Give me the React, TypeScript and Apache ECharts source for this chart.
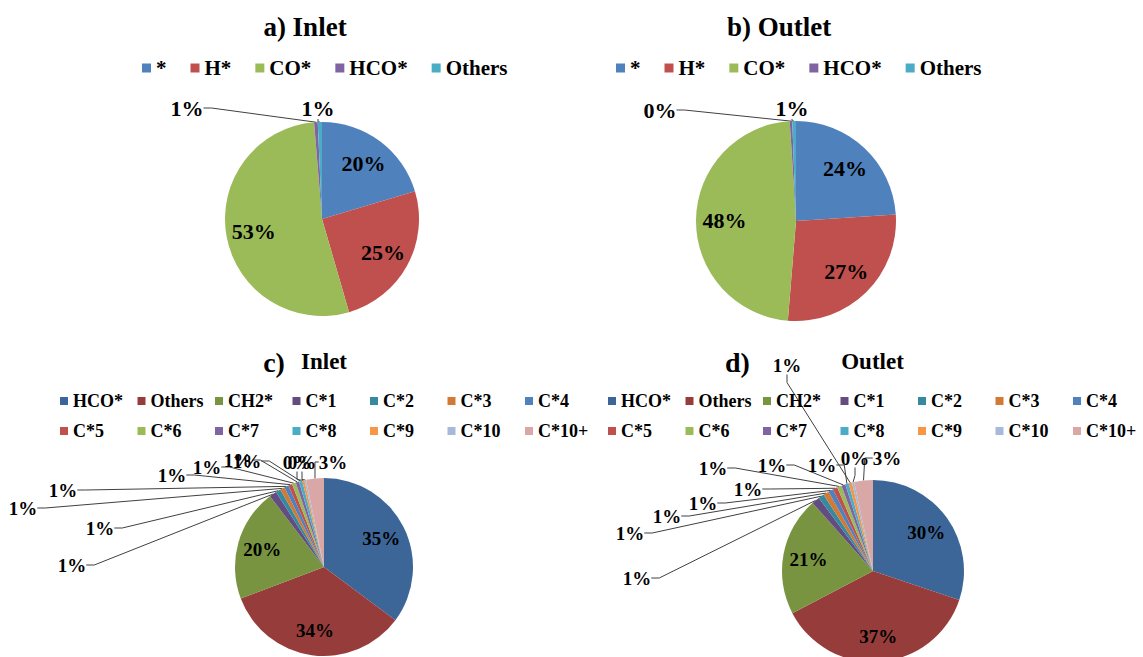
import React, { useEffect, useRef } from 'react';
import * as echarts from 'echarts';

// ---------- data ----------
const topCategories = ['*', 'H*', 'CO*', 'HCO*', 'Others'];
const inletTopValues = [20.4, 25.1, 53.2, 0.6, 0.7];
const outletTopValues = [24.0, 27.4, 47.8, 0.4, 0.6];
const topColors = ['#4F81BD', '#C0504D', '#9BBB59', '#8064A2', '#4BACC6'];

const bottomCategories = ['HCO*', 'Others', 'CH2*', 'C*1', 'C*2', 'C*3', 'C*4', 'C*5', 'C*6', 'C*7', 'C*8', 'C*9', 'C*10', 'C*10+'];
const inletBottomValues = [34.9, 33.8, 20.2, 1.3, 0.9, 0.8, 0.8, 0.7, 0.7, 0.6, 0.6, 0.4, 0.3, 3.2];
const outletBottomValues = [30.0, 37.0, 21.0, 1.4, 1.0, 1.0, 0.9, 0.8, 0.8, 0.7, 0.6, 0.6, 0.4, 3.3];
const bottomColors = ['#3D6698', '#963D3B', '#789440', '#634C80', '#358A9F', '#D27A35', '#4F81BD', '#C0504D', '#9BBB59', '#8064A2', '#4BACC6', '#F79646', '#A7B9D9', '#D9A7A6'];

const titleA = 'a) Inlet';
const titleB = 'b) Outlet';
const titleCLetter = 'c)';
const titleCText = 'Inlet';
const titleDLetter = 'd)';
const titleDText = 'Outlet';

// ---------- layout (positions / sizes, not data) ----------
const FONT = '"Times New Roman", "Liberation Serif", "DejaVu Serif", serif';
type Off = [number, number] | null;
// label offsets from pie centre for slices labelled outside (null = inside label)
const offsetsA: Off[] = [null, null, null, [-135, -111], [-4, -111]];
const offsetsB: Off[] = [null, null, null, [-136, -111], [-4, -113]];
const offsetsC: Off[] = [null, null, null, [-252, -2], [-224, -39], [-301, -59], [-261, -77], [-152, -92], [-117, -100], [-86, -107], [-77, -106], [-27, -105], [-22, -105], [9, -105]];
const offsetsD: Off[] = [null, null, null, [-236, 7], [-243, -38], [-206, -55], [-170, -68], [-125, -82], [-160, -103], [-101, -106], [-51, -106], [-86, -206], [-18, -113], [14, -113]];

function makePie(values: number[], cats: string[], colors: string[], center: [number, number], radius: number, fontSize: number, offsets: Off[]) {
  return {
    type: 'pie',
    center,
    radius,
    startAngle: 90,
    clockwise: true,
    avoidLabelOverlap: false,
    data: values.map((v, i) => ({
      name: cats[i],
      value: v,
      itemStyle: { color: colors[i], borderWidth: 0 },
      label: { position: offsets[i] ? 'outside' : 'inside' },
      labelLine: { show: !!offsets[i] },
    })),
    label: {
      show: true,
      formatter: (p: any) => Math.round(p.percent) + '%',
      fontFamily: FONT,
      fontWeight: 'bold',
      fontSize,
      color: '#000',
    },
    labelLine: {
      show: true,
      length: 6,
      length2: 8,
      lineStyle: { color: '#404040', width: 1 },
    },
    labelLayout: (p: any) => {
      const off = offsets[p.dataIndex];
      if (off) {
        return { x: center[0] + off[0], y: center[1] + off[1], align: 'center', verticalAlign: 'middle' };
      }
      const lx = p.labelRect.x + p.labelRect.width / 2;
      const ly = p.labelRect.y + p.labelRect.height / 2;
      const k = 1.35;
      return { x: center[0] + k * (lx - center[0]), y: center[1] + k * (ly - center[1]), align: 'center', verticalAlign: 'middle' };
    },
  };
}

function topLegend(left: number) {
  return {
    left,
    top: 56,
    padding: 0,
    orient: 'horizontal',
    icon: 'rect',
    itemWidth: 9,
    itemHeight: 9,
    itemGap: 24,
    selectedMode: false,
    data: topCategories.map((n, i) => ({ name: n, itemStyle: { color: topColors[i] } })),
    textStyle: { fontFamily: FONT, fontWeight: 'bold', fontSize: 21, color: '#000', lineHeight: 24 },
  };
}

function bottomLegend(left: number) {
  return {
    left,
    top: 388.5,
    width: 545,
    padding: 0,
    orient: 'horizontal',
    icon: 'rect',
    itemWidth: 8,
    itemHeight: 8,
    itemGap: 5,
    selectedMode: false,
    formatter: '{a|{name}}',
    data: bottomCategories.map((n, i) => ({ name: n, itemStyle: { color: bottomColors[i] } })),
    textStyle: {
      fontFamily: FONT, fontWeight: 'bold', fontSize: 18, color: '#000', lineHeight: 25,
      rich: { a: { width: 59.5, fontFamily: FONT, fontWeight: 'bold', fontSize: 18, color: '#000', lineHeight: 25 } },
    },
  };
}

function titleText(text: string, x: number, y: number, size: number) {
  return {
    type: 'text',
    x,
    y,
    style: { text, fontFamily: FONT, fontWeight: 'bold', fontSize: size, fill: '#000', align: 'center', verticalAlign: 'middle' },
  };
}

export default function App() {
  const ref = useRef<HTMLDivElement>(null);
  useEffect(() => {
    if (!ref.current) return;
    const chart = echarts.init(ref.current, null, { renderer: 'svg' });
    const option: any = {
      animation: false,
      backgroundColor: '#fff',
      textStyle: { fontFamily: FONT },
      graphic: [
        titleText(titleA, 305, 27, 27),
        titleText(titleB, 779, 27, 27),
        titleText(titleCLetter, 274, 362, 28),
        titleText(titleCText, 324, 361, 23),
        titleText(titleDLetter, 737.5, 362, 28),
        titleText(titleDText, 872.5, 361, 23),
      ],
      legend: [topLegend(142), topLegend(616), bottomLegend(60), bottomLegend(608)],
      series: [
        makePie(inletTopValues, topCategories, topColors, [322, 219], 97, 22, offsetsA),
        makePie(outletTopValues, topCategories, topColors, [796, 221], 100, 22, offsetsB),
        makePie(inletBottomValues, bottomCategories, bottomColors, [324, 567], 89, 19, offsetsC),
        makePie(outletBottomValues, bottomCategories, bottomColors, [873, 571], 91, 19, offsetsD),
      ],
    };
    chart.setOption(option);
    return () => chart.dispose();
  }, []);
  return (
    <div
      ref={ref}
      style={{ position: 'absolute', left: 0, top: 0, width: 1143, height: 657, background: '#fff' }}
    />
  );
}
